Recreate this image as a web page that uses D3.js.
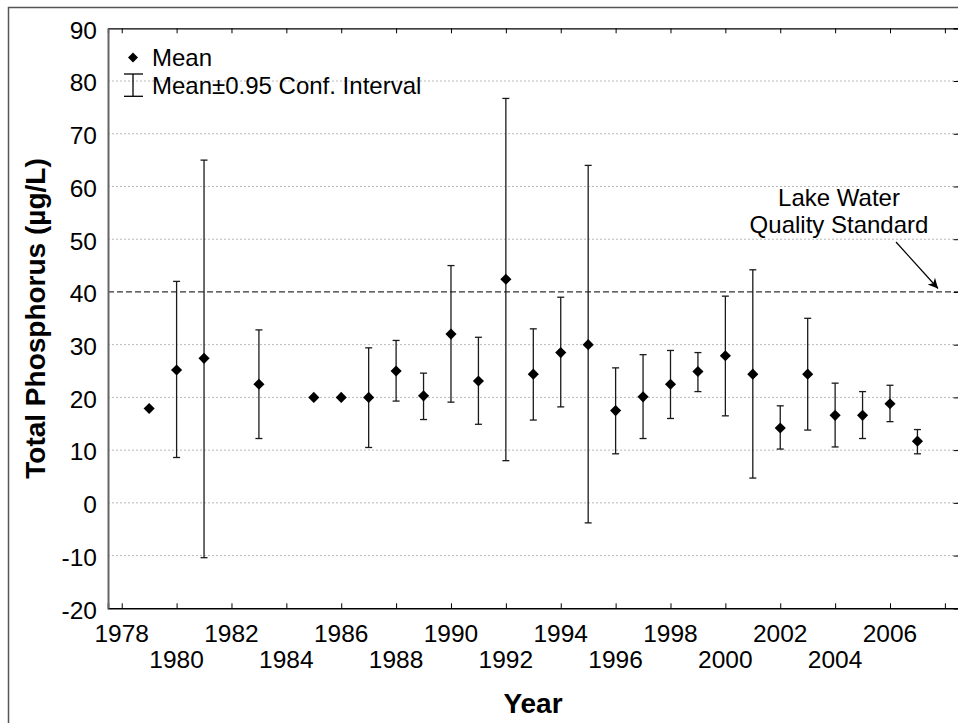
<!DOCTYPE html>
<html><head><meta charset="utf-8">
<script src="https://cdn.jsdelivr.net/npm/d3@7"></script>
<style>
html,body{margin:0;padding:0;background:#fff;}
svg{display:block;font-family:"Liberation Sans",Arial,sans-serif;}
</style></head>
<body><svg id="c" width="958" height="723"></svg>
<script>
const years = [1979,1980,1981,1983,1985,1986,1987,1988,1989,1990,1991,1992,1993,1994,1995,1996,1997,1998,1999,2000,2001,2002,2003,2004,2005,2006,2007];
const means = [17.9,25.2,27.4,22.5,20.0,20.0,20.0,25.0,20.3,32.0,23.1,42.4,24.4,28.5,30.0,17.5,20.1,22.5,24.9,27.9,24.4,14.2,24.4,16.6,16.6,18.8,11.7];
const upper = [null,42.0,65.0,32.8,null,null,29.4,30.8,24.6,45.0,31.4,76.7,33.0,39.0,64.0,25.6,28.1,28.9,28.5,39.2,44.2,18.4,35.0,22.7,21.1,22.3,13.9];
const lower = [null,8.6,-10.4,12.2,null,null,10.5,19.3,15.8,19.1,14.9,8.0,15.7,18.2,-3.8,9.3,12.2,16.0,21.1,16.5,4.7,10.2,13.8,10.6,12.2,15.4,9.3];
const xTicks = [1978,1980,1982,1984,1986,1988,1990,1992,1994,1996,1998,2000,2002,2004,2006,2008];
const xLabelsRow1 = [1978,1982,1986,1990,1994,1998,2002,2006];
const xLabelsRow2 = [1980,1984,1988,1992,1996,2000,2004];
const yTicks = [-20,-10,0,10,20,30,40,50,60,70,80,90];
const standard = 40;
const legendLabels = ["Mean","Mean\u00B10.95 Conf. Interval"];
const annotationLines = ["Lake Water","Quality Standard"];
const xTitle = "Year";
const yTitle = "Total Phosphorus (\u00B5g/L)";

const svg = d3.select("#c");
const L = 108, R = 958.6, T = 28.3, B = 608.3;
const x = d3.scaleLinear().domain([1977.5, 2008.5]).range([L, R]);
const y = d3.scaleLinear().domain([-20, 90]).range([B, T]);

// outer border
svg.append("rect").attr("x",8.5).attr("y",7.5).attr("width",1000).attr("height",1000)
  .attr("fill","none").attr("stroke","#555").attr("stroke-width",1.5);

// gridlines
svg.append("g").selectAll("line").data(yTicks.filter(v=>v>-20 && v<90 && v!==standard)).join("line")
  .attr("x1",L).attr("x2",R).attr("y1",d=>y(d)).attr("y2",d=>y(d))
  .attr("stroke","#b8b8b8").attr("stroke-width",1).attr("stroke-dasharray","2,2");

// standard line
svg.append("line").attr("x1",L).attr("x2",R).attr("y1",y(standard)).attr("y2",y(standard))
  .attr("stroke","#333").attr("stroke-width",1.3).attr("stroke-dasharray","6,3");

// axes
const gx = svg.append("g").attr("transform",`translate(0,${B})`)
  .call(d3.axisBottom(x).tickValues(xTicks).tickSize(-5).tickFormat(""));
gx.select(".domain").attr("stroke","#000").attr("stroke-width",1.5);
gx.selectAll(".tick line").attr("stroke","#000");
const gxt = svg.append("g").attr("transform",`translate(0,${T})`)
  .call(d3.axisTop(x).tickValues(xTicks).tickSize(-5).tickFormat(""));
gxt.select(".domain").attr("stroke","#000").attr("stroke-width",1.3);
gxt.selectAll(".tick line").attr("stroke","#000");
const gyr = svg.append("g").attr("transform",`translate(${R},0)`)
  .call(d3.axisRight(y).tickValues(yTicks).tickSize(-5).tickFormat(""));
gyr.selectAll(".tick line").attr("stroke","#000");
const gy = svg.append("g").attr("transform",`translate(${L},0)`)
  .call(d3.axisLeft(y).tickValues(yTicks).tickSize(0).tickPadding(11).tickFormat(d=>String(d)));
gy.select(".domain").attr("stroke","#666").attr("stroke-width",2);
gy.selectAll("text").attr("font-size",24.5).attr("fill","#000").attr("dy","0.4em")
  .attr("font-family","Liberation Sans, Arial, sans-serif");

// x labels (staggered)
svg.append("g").selectAll("text").data(xLabelsRow1).join("text")
  .attr("x",d=>x(d)).attr("y",641.5).attr("text-anchor","middle").attr("font-size",24.5).text(d=>d);
svg.append("g").selectAll("text").data(xLabelsRow2).join("text")
  .attr("x",d=>x(d)).attr("y",668.3).attr("text-anchor","middle").attr("font-size",24.5).text(d=>d);

// error bars
const cap = 3.5;
const eb = svg.append("g").attr("stroke","#1a1a1a").attr("stroke-width",1.3);
years.forEach((yr,i)=>{
  if(upper[i]==null) return;
  const cx = x(yr);
  eb.append("line").attr("x1",cx).attr("x2",cx).attr("y1",y(upper[i])).attr("y2",y(lower[i]));
  eb.append("line").attr("x1",cx-cap).attr("x2",cx+cap).attr("y1",y(upper[i])).attr("y2",y(upper[i]));
  eb.append("line").attr("x1",cx-cap).attr("x2",cx+cap).attr("y1",y(lower[i])).attr("y2",y(lower[i]));
});

// markers
const diamond = d3.symbol().type(d3.symbolSquare).size(62);
svg.append("g").selectAll("path").data(years).join("path")
  .attr("d",diamond).attr("fill","#000")
  .attr("transform",(d,i)=>`translate(${x(d)},${y(means[i])}) rotate(45)`);

// legend
svg.append("path").attr("d",d3.symbol().type(d3.symbolSquare).size(50)).attr("fill","#000")
  .attr("transform","translate(133,57.5) rotate(45)");
const lg = svg.append("g").attr("stroke","#000").attr("stroke-width",1.3);
lg.append("line").attr("x1",133).attr("x2",133).attr("y1",74).attr("y2",96.3);
lg.append("line").attr("x1",124).attr("x2",143).attr("y1",74).attr("y2",74);
lg.append("line").attr("x1",124).attr("x2",143).attr("y1",96.3).attr("y2",96.3);
svg.append("text").attr("x",152).attr("y",65.5).attr("font-size",24).text(legendLabels[0]);
svg.append("text").attr("x",152).attr("y",94).attr("font-size",24).text(legendLabels[1]);

// annotation
svg.append("text").attr("x",839).attr("y",206).attr("text-anchor","middle").attr("font-size",24).text(annotationLines[0]);
svg.append("text").attr("x",839).attr("y",233).attr("text-anchor","middle").attr("font-size",24).text(annotationLines[1]);
svg.append("defs").append("marker").attr("id","ah").attr("viewBox","0 0 10 10").attr("refX",10).attr("refY",5)
  .attr("markerWidth",14).attr("markerHeight",10).attr("markerUnits","userSpaceOnUse").attr("orient","auto")
  .append("path").attr("d","M0,0 L10,5 L0,10 L3,5 Z").attr("fill","#000");
svg.append("line").attr("x1",896).attr("y1",242).attr("x2",938).attr("y2",288.5)
  .attr("stroke","#000").attr("stroke-width",1.2).attr("marker-end","url(#ah)");

// titles
svg.append("text").attr("x",533).attr("y",713).attr("text-anchor","middle").attr("font-size",28).attr("font-weight","bold").text(xTitle);
svg.append("text").attr("transform","translate(44.5,318.5) rotate(-90)").attr("text-anchor","middle")
  .attr("font-size",28).attr("font-weight","bold").text(yTitle);
</script></body></html>
